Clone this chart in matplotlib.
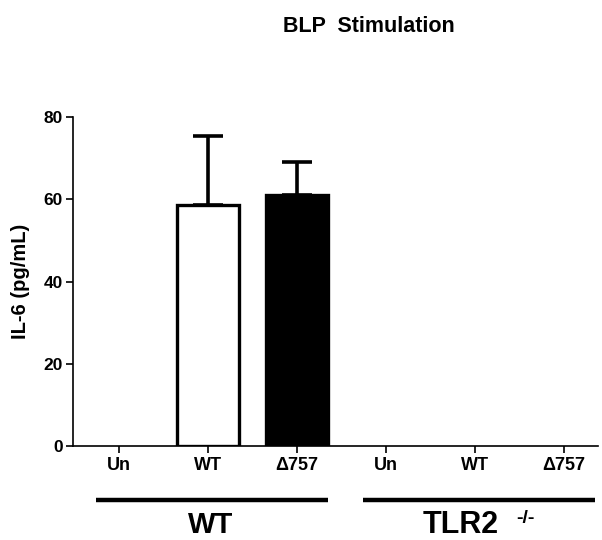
import numpy as np
import matplotlib
matplotlib.use("Agg")
import matplotlib.pyplot as plt
import matplotlib.transforms as mtransforms

plt.rcParams['font.family'] = ['Liberation Sans', 'DejaVu Sans']
plt.rcParams['font.weight'] = 'bold'

# data
tick_labels = ["Un", "WT", "\u0394757", "Un", "WT", "\u0394757"]
il6_mean = [0, 58.6, 61.0, 0, 0, 0]
il6_err = [0, 16.8, 8.1, 0, 0, 0]
bar_fill = ["white", "white", "black", "white", "white", "black"]
groups = ["WT", "TLR2"]

fig = plt.figure(figsize=(6.02, 5.4), dpi=100)
ax = fig.add_axes([0.121, 0.174, 0.872, 0.609])

x = np.arange(len(tick_labels))
width = 0.69
for xi, m, e, c in zip(x, il6_mean, il6_err, bar_fill):
    if m <= 0:
        continue
    ax.bar(xi, m, width, color=c, edgecolor="black", linewidth=2.4, zorder=2)
    ax.errorbar(xi, m, yerr=[[0], [e]], fmt="none", ecolor="black",
                elinewidth=2.6, capsize=11, capthick=2.6, zorder=3)

ax.set_xlim(-0.52, 5.38)
ax.set_ylim(0, 80)
ax.set_yticks([0, 20, 40, 60, 80])
ax.set_xticks(x)
ax.set_xticklabels(tick_labels, fontsize=13, fontweight="bold")
ax.tick_params(axis="y", labelsize=12.5, width=1.2, length=5, pad=2)
ax.tick_params(axis="x", width=1.2, length=5, pad=3)
for lab in ax.get_yticklabels():
    lab.set_fontweight("bold")
ax.spines["top"].set_visible(False)
ax.spines["right"].set_visible(False)
ax.spines["left"].set_linewidth(1.2)
ax.spines["bottom"].set_linewidth(1.2)
ax.set_ylabel("IL-6 (pg/mL)", fontsize=14.5, fontweight="bold")
ax.yaxis.set_label_coords(-0.082, 0.5)

# group lines and labels under the axis
trans = mtransforms.blended_transform_factory(ax.transData, ax.transAxes)
ax.plot([-0.26, 2.35], [-0.164, -0.164], color="black", lw=3.2,
        transform=trans, clip_on=False, solid_capstyle="butt")
ax.plot([2.74, 5.35], [-0.164, -0.164], color="black", lw=3.2,
        transform=trans, clip_on=False, solid_capstyle="butt")
ax.text(1.03, -0.265, groups[0], transform=trans, ha="center", va="baseline",
        fontsize=21, fontweight="bold")
ax.text(3.84, -0.265, groups[1], transform=trans, ha="center", va="baseline",
        fontsize=22, fontweight="bold")
ax.text(4.57, -0.219, "-/-", transform=trans, ha="center", va="center",
        fontsize=14, fontweight="bold")

fig.text(0.612, 0.950, "BLP  Stimulation", ha="center", va="center",
         fontsize=15.5, fontweight="bold")

fig.savefig("out.png", dpi=100)
